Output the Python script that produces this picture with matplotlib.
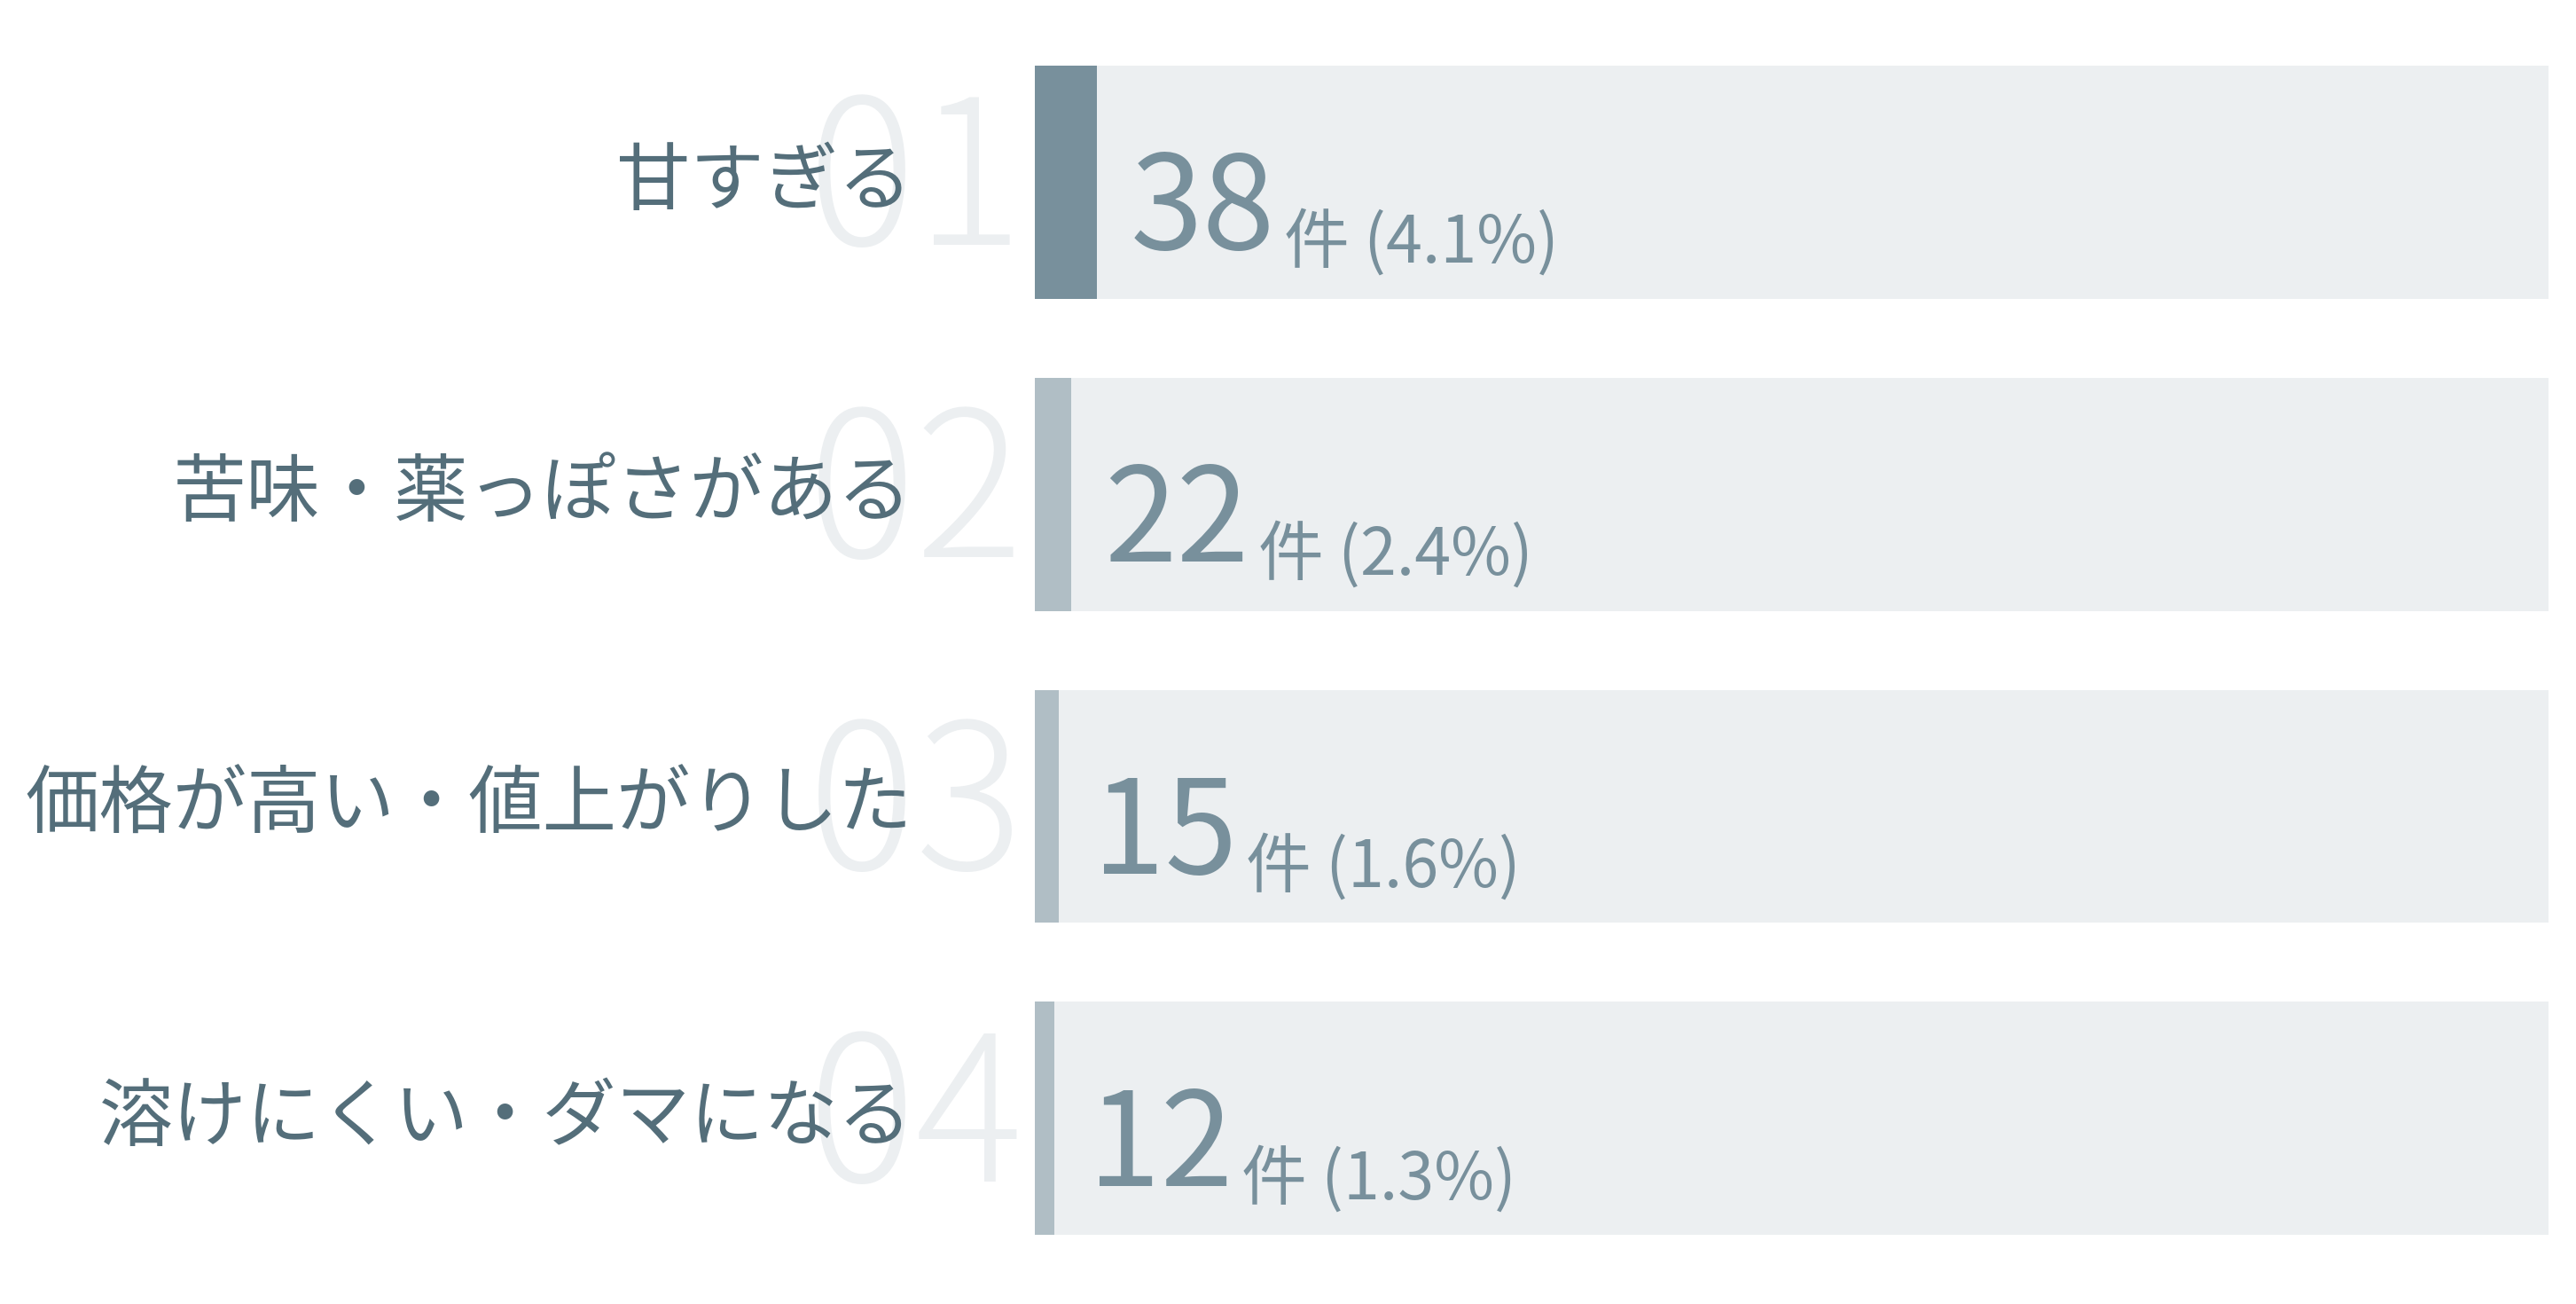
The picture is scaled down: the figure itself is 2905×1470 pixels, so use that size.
import matplotlib
matplotlib.use("Agg")
import matplotlib.pyplot as plt

plt.rcParams['font.family'] = ['Noto Sans CJK JP', 'DejaVu Sans']

# data
labels = ["甘すぎる", "苦味・薬っぽさがある", "価格が高い・値上がりした", "溶けにくい・ダマになる"]
ranks = ["01", "02", "03", "04"]
counts = [38, 22, 15, 12]
shares = [4.1, 2.4, 1.6, 1.3]

bg_col = "#eceff1"
accent = ["#78909c", "#b0bec5", "#b0bec5", "#b0bec5"]
label_col = "#546e7a"
num_col = "#78909c"

fig = plt.figure(figsize=(29.05, 14.7), dpi=100)
ax = fig.add_axes([1167 / 2905, 0.0227, (2874 - 1167) / 2905, 0.9573])
ax.set_xlim(0, 100)
ax.set_ylim(3.5, -0.5)
ax.axis('off')

y = list(range(len(labels)))
ax.barh(y, [100] * len(y), height=0.747, color=bg_col, zorder=1)
ax.barh(y, shares, height=0.747, color=accent, zorder=2)

for i in y:
    # big rank number in the background
    ax.text(-15.0, i + 0.02, ranks[i], fontsize=164, color=bg_col,
            fontweight='light', ha='left', va='center', zorder=0, clip_on=False)
    # category label
    ax.text(-8.1, i, labels[i], fontsize=60, color=label_col,
            ha='right', va='center', zorder=3, clip_on=False)
    # count and share
    num = ax.annotate(str(counts[i]), xy=(shares[i], i + 0.216), xycoords='data',
                      xytext=(27, 0), textcoords='offset points',
                      fontsize=106, color=num_col, ha='left', va='baseline', zorder=3)
    ax.annotate(f"件 ({shares[i]:.1f}%)", xy=(1, i + 0.258), xycoords=(num, 'data'),
                xytext=(7, 0), textcoords='offset points',
                fontsize=53, color=num_col, ha='left', va='baseline', zorder=3)

fig.savefig("out.png", dpi=100, facecolor="white")
